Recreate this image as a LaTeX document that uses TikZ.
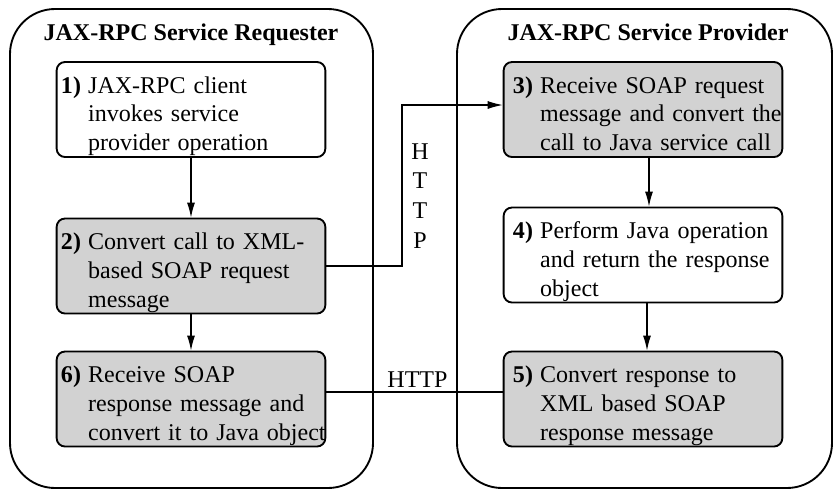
\documentclass[tikz,border=0pt]{standalone}
\usepackage{fontspec}
\setmainfont{Liberation Serif}
\usetikzlibrary{arrows.meta, positioning}
\newcommand{\bodysize}{\fontsize{20.5pt}{24.5pt}\selectfont}
\newcommand{\steptext}[4]{\raisebox{-0.2cm}[\height][\depth]{\begin{tabular}{@{}l@{\hspace{0.3em}}l@{}}\textbf{#1)} & #2\\ & #3\\ & #4\end{tabular}}}
\tikzset{
  every node/.style={font=\bodysize},
  stepbox/.style={draw, line width=1.6pt, rounded corners=0.25cm, text width=7.8cm,
    minimum height=2.85cm, align=left, inner xsep=#1},
  stepbox/.default=0.13cm,
  grey/.style={fill=gray!35},
  side/.style={line width=1.6pt, rounded corners=1.35cm},
  flow/.style={-{Latex[length=0.45cm,width=0.24cm]}, line width=1pt},
  wire/.style={line width=1pt}}

\begin{document}
\begin{tikzpicture}[x=0.03cm, y=-0.03cm]
  \useasboundingbox (0,0) rectangle (835,490);
  % the two sides
  \draw [side] (10,9) rectangle (373,488);
  \draw [side] (457,9) rectangle (832,488);
  \node [anchor=base, font=\bodysize\bfseries] (req) at (191,40) {JAX-RPC Service Requester};
  \node [anchor=base, font=\bodysize\bfseries] (prov) at (648,40) {JAX-RPC Service Provider};
  % requester steps
  \node [stepbox] (b1) at (191,109.5) {\steptext{1}{JAX-RPC client}{invokes service}{provider operation}};
  \node [stepbox, grey] (b2) at (191,266) {\steptext{2}{Convert call to XML-}{based SOAP request}{message}};
  \node [stepbox, grey] (b6) at (191,399) {\steptext{6}{Receive SOAP}{response message and}{convert it to Java object}};
  % provider steps
  \node [stepbox=0.28cm, grey] (b3) at (643,109.5) {\steptext{3}{Receive SOAP request}{message and convert the}{call to Java service call}};
  \node [stepbox=0.28cm] (b4) at (643,255) {\steptext{4}{Perform Java operation}{and return the response}{object}};
  \node [stepbox=0.28cm, grey] (b5) at (643,399) {\steptext{5}{Convert response to}{XML based SOAP}{response message}};
  \draw [flow] (b1) -- (b2);
  \draw [flow] (b2) -- (b6);
  \draw [flow] ([xshift=0.18cm]b3.south) -- ([xshift=0.18cm]b4.north);
  \draw [flow] ([xshift=0.12cm]b4.south) -- ([xshift=0.12cm]b5.north);
  % HTTP links
  \coordinate (hx) at (402,105);
  \draw [flow] (b2.east) -| (hx) |- ([yshift=0.135cm]b3.west);
  \node [align=center, font=\fontsize{20.5pt}{25.5pt}\selectfont] (h1) at (420,196) {H\\T\\T\\P};
  \draw [wire] ([yshift=0.21cm]b6.east) -- ([yshift=0.21cm]b5.west);
  \node [anchor=base] (h2) at (417.5,387) {HTTP};
\end{tikzpicture}
\end{document}
